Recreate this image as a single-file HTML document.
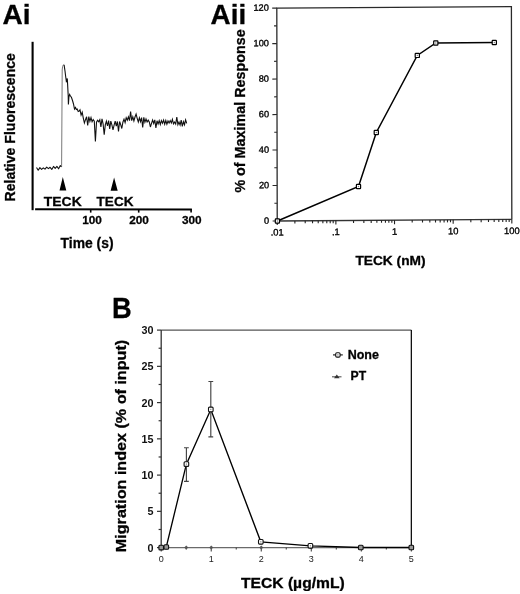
<!DOCTYPE html>
<html><head><meta charset="utf-8"><title>Figure</title>
<style>html,body{margin:0;padding:0;background:#fff;}svg{display:block;}text{font-family:"Liberation Sans",sans-serif;}text[font-weight=bold]{stroke:#000;stroke-width:0.3px;}</style>
</head><body>
<svg width="520" height="594" viewBox="0 0 520 594">
<rect width="520" height="594" fill="#fff"/>
<g opacity="0.999">
<text x="2.6" y="24" font-size="28" font-weight="bold" font-family="Liberation Sans, sans-serif">Ai</text>
<text transform="translate(14.8,127.3) rotate(-90)" text-anchor="middle" font-size="14" font-weight="bold" font-family="Liberation Sans, sans-serif" textLength="148.4" lengthAdjust="spacingAndGlyphs">Relative Fluorescence</text>
<path d="M32.6,41.8 V210.2" stroke="#000" stroke-width="2.1" fill="none"/>
<path d="M35.1,209.2 L191.9,209.5" stroke="#000" stroke-width="2.1" fill="none"/>
<path d="M90.7,209 V212.6" stroke="#000" stroke-width="1.6"/>
<path d="M138.7,209 V212.6" stroke="#000" stroke-width="1.6"/>
<path d="M191.1,209 V212.6" stroke="#000" stroke-width="1.6"/>
<text x="92.1" y="224.3" text-anchor="middle" font-size="11.8" font-weight="bold" font-family="Liberation Sans, sans-serif">100</text>
<text x="139.1" y="224.3" text-anchor="middle" font-size="11.8" font-weight="bold" font-family="Liberation Sans, sans-serif">200</text>
<text x="191.8" y="224.3" text-anchor="middle" font-size="11.8" font-weight="bold" font-family="Liberation Sans, sans-serif">300</text>
<text x="60.6" y="247.6" font-size="14.2" font-weight="bold" font-family="Liberation Sans, sans-serif" textLength="53" lengthAdjust="spacingAndGlyphs">Time (s)</text>
<text x="43.8" y="205.8" font-size="13.6" font-weight="bold" font-family="Liberation Sans, sans-serif" textLength="37.9" lengthAdjust="spacingAndGlyphs">TECK</text>
<text x="96.6" y="205.8" font-size="13.6" font-weight="bold" font-family="Liberation Sans, sans-serif" textLength="36.9" lengthAdjust="spacingAndGlyphs">TECK</text>
<path d="M62.8,177 L66.3,190.6 L59.5,190.6 Z M114.1,177.4 L117.7,190.8 L110.6,190.8 Z" fill="#000"/>
<polyline points="36.5,167.5 38.2,170.2 39.9,167.6 41.6,169.3 43.3,167.8 45.0,169.2 46.7,167.2 48.4,168.6 50.1,167.3 51.8,169.4 53.5,166.4 55.2,168.3 56.9,166.4 58.6,168.8 60.3,165.6 61.5,167.0" fill="none" stroke="#111" stroke-width="1.1" stroke-linejoin="round"/>
<polyline points="61.6,167.0 61.9,120.0 62.2,70.0 62.6,66.5 63.4,64.8 64.1,64.4" fill="none" stroke="#555" stroke-width="0.8" stroke-linejoin="round"/>
<polyline points="64.1,64.8 65.0,71.0 65.6,76.0 66.3,81.0 67.3,78.5 67.8,88.0 68.2,95.5 68.4,104.5 68.9,97.0 69.6,94.5 70.5,96.0 71.5,97.5 72.5,100.5 73.5,104.0 74.5,109.0 75.5,107.5 76.3,109.5 77.2,109.0 78.2,111.5 79.1,111.0 80.0,109.8 81.1,115.1 82.2,112.2 83.3,118.1 84.4,123.0 85.5,119.7 86.6,116.7 87.7,125.5 88.8,116.6 89.9,121.3 91.0,117.5 92.1,121.8 93.2,119.6 94.3,121.3 95.4,141.5 96.5,122.1 97.6,120.2 98.7,121.8 99.8,119.8 100.9,127.0 102.0,118.9 103.1,123.8 104.2,134.6 105.3,124.9 106.4,121.2 107.5,126.0 108.6,120.5 109.7,129.0 110.8,121.1 111.9,124.8 113.0,130.0 114.1,125.2 115.2,121.1 116.3,126.1 117.4,121.5 118.5,131.5 119.6,121.5 120.7,124.6 121.8,128.5 122.9,122.2 124.0,119.2 125.1,122.7 126.2,117.7 127.3,120.2 128.4,116.8 129.5,120.6 130.6,111.5 131.7,120.6 132.8,116.8 133.9,121.0 135.0,117.0 136.1,114.0 137.2,118.3 138.3,121.9 139.4,117.8 140.5,121.7 141.6,117.6 142.7,127.5 143.8,117.4 144.9,122.3 146.0,119.0 147.1,122.0 148.2,120.1 149.3,121.9 150.4,127.0 151.5,123.3 152.6,120.1 153.7,123.5 154.8,119.9 155.9,128.0 157.0,120.8 158.1,124.0 159.2,120.7 160.3,124.5 161.4,120.6 162.5,123.2 163.6,120.1 164.7,124.2 165.8,120.5 166.9,124.2 168.0,121.0 169.1,123.1 170.2,120.6 171.3,122.9 172.4,119.3 173.5,123.8 174.6,122.0 175.7,124.0 176.8,117.0 177.9,124.7 179.0,122.1 180.1,125.1 181.2,120.2 182.3,126.3 183.4,121.7 184.5,124.7 185.6,119.8 186.7,123.3" fill="none" stroke="#111" stroke-width="1.1" stroke-linejoin="miter"/>
<text x="210.6" y="24" font-size="27.8" font-weight="bold" font-family="Liberation Sans, sans-serif">Aii</text>
<text x="355.4" y="265" font-size="12.8" font-weight="bold" font-family="Liberation Sans, sans-serif" textLength="70.2" lengthAdjust="spacingAndGlyphs">TECK (nM)</text>
<text transform="translate(244.8,111) rotate(-90)" text-anchor="middle" font-size="14.3" font-weight="bold" font-family="Liberation Sans, sans-serif" textLength="163.2" lengthAdjust="spacingAndGlyphs">% of Maximal Response</text>
<g transform="matrix(1,-0.0066,0.002,1,-0.0162,1.8269)">
<path d="M276.8,221.0 V8.1 H511.4 V221.0" fill="none" stroke="#2a2a2a" stroke-width="1.3"/>
<path d="M276.8,221.0 H511.4" fill="none" stroke="#333" stroke-width="1.3"/>
<path d="M272.2,221.00 H276.8" stroke="#2a2a2a" stroke-width="1.1"/>
<text x="268.8" y="223.60" text-anchor="end" font-size="9.2" font-family="Liberation Sans, sans-serif" fill="#000" stroke="#000" stroke-width="0.35">0</text>
<path d="M274.0,203.26 H276.8" stroke="#2a2a2a" stroke-width="1.1"/>
<path d="M272.2,185.52 H276.8" stroke="#2a2a2a" stroke-width="1.1"/>
<text x="268.8" y="188.12" text-anchor="end" font-size="9.2" font-family="Liberation Sans, sans-serif" fill="#000" stroke="#000" stroke-width="0.35">20</text>
<path d="M274.0,167.78 H276.8" stroke="#2a2a2a" stroke-width="1.1"/>
<path d="M272.2,150.03 H276.8" stroke="#2a2a2a" stroke-width="1.1"/>
<text x="268.8" y="152.63" text-anchor="end" font-size="9.2" font-family="Liberation Sans, sans-serif" fill="#000" stroke="#000" stroke-width="0.35">40</text>
<path d="M274.0,132.29 H276.8" stroke="#2a2a2a" stroke-width="1.1"/>
<path d="M272.2,114.55 H276.8" stroke="#2a2a2a" stroke-width="1.1"/>
<text x="268.8" y="117.15" text-anchor="end" font-size="9.2" font-family="Liberation Sans, sans-serif" fill="#000" stroke="#000" stroke-width="0.35">60</text>
<path d="M274.0,96.81 H276.8" stroke="#2a2a2a" stroke-width="1.1"/>
<path d="M272.2,79.07 H276.8" stroke="#2a2a2a" stroke-width="1.1"/>
<text x="268.8" y="81.67" text-anchor="end" font-size="9.2" font-family="Liberation Sans, sans-serif" fill="#000" stroke="#000" stroke-width="0.35">80</text>
<path d="M274.0,61.32 H276.8" stroke="#2a2a2a" stroke-width="1.1"/>
<path d="M272.2,43.58 H276.8" stroke="#2a2a2a" stroke-width="1.1"/>
<text x="268.8" y="46.18" text-anchor="end" font-size="9.2" font-family="Liberation Sans, sans-serif" fill="#000" stroke="#000" stroke-width="0.35">100</text>
<path d="M274.0,25.84 H276.8" stroke="#2a2a2a" stroke-width="1.1"/>
<path d="M272.2,8.10 H276.8" stroke="#2a2a2a" stroke-width="1.1"/>
<text x="268.8" y="10.70" text-anchor="end" font-size="9.2" font-family="Liberation Sans, sans-serif" fill="#000" stroke="#000" stroke-width="0.35">120</text>
<path d="M276.80,221.0 V225.0" stroke="#222" stroke-width="1.1"/>
<path d="M294.46,221.0 V223.5" stroke="#222" stroke-width="1.1"/>
<path d="M304.78,221.0 V223.5" stroke="#222" stroke-width="1.1"/>
<path d="M312.11,221.0 V223.5" stroke="#222" stroke-width="1.1"/>
<path d="M317.79,221.0 V223.5" stroke="#222" stroke-width="1.1"/>
<path d="M322.44,221.0 V223.5" stroke="#222" stroke-width="1.1"/>
<path d="M326.37,221.0 V223.5" stroke="#222" stroke-width="1.1"/>
<path d="M329.77,221.0 V223.5" stroke="#222" stroke-width="1.1"/>
<path d="M332.77,221.0 V223.5" stroke="#222" stroke-width="1.1"/>
<path d="M335.45,221.0 V225.0" stroke="#222" stroke-width="1.1"/>
<path d="M353.11,221.0 V223.5" stroke="#222" stroke-width="1.1"/>
<path d="M363.43,221.0 V223.5" stroke="#222" stroke-width="1.1"/>
<path d="M370.76,221.0 V223.5" stroke="#222" stroke-width="1.1"/>
<path d="M376.44,221.0 V223.5" stroke="#222" stroke-width="1.1"/>
<path d="M381.09,221.0 V223.5" stroke="#222" stroke-width="1.1"/>
<path d="M385.02,221.0 V223.5" stroke="#222" stroke-width="1.1"/>
<path d="M388.42,221.0 V223.5" stroke="#222" stroke-width="1.1"/>
<path d="M391.42,221.0 V223.5" stroke="#222" stroke-width="1.1"/>
<path d="M394.10,221.0 V225.0" stroke="#222" stroke-width="1.1"/>
<path d="M411.76,221.0 V223.5" stroke="#222" stroke-width="1.1"/>
<path d="M422.08,221.0 V223.5" stroke="#222" stroke-width="1.1"/>
<path d="M429.41,221.0 V223.5" stroke="#222" stroke-width="1.1"/>
<path d="M435.09,221.0 V223.5" stroke="#222" stroke-width="1.1"/>
<path d="M439.74,221.0 V223.5" stroke="#222" stroke-width="1.1"/>
<path d="M443.67,221.0 V223.5" stroke="#222" stroke-width="1.1"/>
<path d="M447.07,221.0 V223.5" stroke="#222" stroke-width="1.1"/>
<path d="M450.07,221.0 V223.5" stroke="#222" stroke-width="1.1"/>
<path d="M452.75,221.0 V225.0" stroke="#222" stroke-width="1.1"/>
<path d="M470.41,221.0 V223.5" stroke="#222" stroke-width="1.1"/>
<path d="M480.73,221.0 V223.5" stroke="#222" stroke-width="1.1"/>
<path d="M488.06,221.0 V223.5" stroke="#222" stroke-width="1.1"/>
<path d="M493.74,221.0 V223.5" stroke="#222" stroke-width="1.1"/>
<path d="M498.39,221.0 V223.5" stroke="#222" stroke-width="1.1"/>
<path d="M502.32,221.0 V223.5" stroke="#222" stroke-width="1.1"/>
<path d="M505.72,221.0 V223.5" stroke="#222" stroke-width="1.1"/>
<path d="M508.72,221.0 V223.5" stroke="#222" stroke-width="1.1"/>
<path d="M511.40,221.0 V225.0" stroke="#222" stroke-width="1.1"/>
<text x="276.80" y="235.5" text-anchor="middle" font-size="9.3" font-family="Liberation Sans, sans-serif" fill="#000" stroke="#000" stroke-width="0.35">.01</text>
<text x="335.45" y="235.5" text-anchor="middle" font-size="9.3" font-family="Liberation Sans, sans-serif" fill="#000" stroke="#000" stroke-width="0.35">.1</text>
<text x="394.10" y="235.5" text-anchor="middle" font-size="9.3" font-family="Liberation Sans, sans-serif" fill="#000" stroke="#000" stroke-width="0.35">1</text>
<text x="452.75" y="235.5" text-anchor="middle" font-size="9.3" font-family="Liberation Sans, sans-serif" fill="#000" stroke="#000" stroke-width="0.35">10</text>
<text x="511.40" y="235.5" text-anchor="middle" font-size="9.3" font-family="Liberation Sans, sans-serif" fill="#000" stroke="#000" stroke-width="0.35">100</text>
</g>
<polyline points="277.4,221.0 358.5,186.5 376.3,132.5 417.3,55.4 435.8,43.0 494.3,42.5" fill="none" stroke="#000" stroke-width="1.5"/>
<rect x="275.30" y="218.90" width="4.2" height="4.2" rx="0.6" fill="#fff" stroke="#000" stroke-width="1.2"/>
<rect x="276.80" y="220.40" width="1.2" height="1.2" fill="#777"/>
<rect x="356.40" y="184.40" width="4.2" height="4.2" rx="0.6" fill="#fff" stroke="#000" stroke-width="1.2"/>
<rect x="357.90" y="185.90" width="1.2" height="1.2" fill="#777"/>
<rect x="374.20" y="130.40" width="4.2" height="4.2" rx="0.6" fill="#fff" stroke="#000" stroke-width="1.2"/>
<rect x="375.70" y="131.90" width="1.2" height="1.2" fill="#777"/>
<rect x="415.20" y="53.30" width="4.2" height="4.2" rx="0.6" fill="#fff" stroke="#000" stroke-width="1.2"/>
<rect x="416.70" y="54.80" width="1.2" height="1.2" fill="#777"/>
<rect x="433.70" y="40.90" width="4.2" height="4.2" rx="0.6" fill="#fff" stroke="#000" stroke-width="1.2"/>
<rect x="435.20" y="42.40" width="1.2" height="1.2" fill="#777"/>
<rect x="492.20" y="40.40" width="4.2" height="4.2" rx="0.6" fill="#fff" stroke="#000" stroke-width="1.2"/>
<rect x="493.70" y="41.90" width="1.2" height="1.2" fill="#777"/>
<text transform="translate(111.9,318) scale(0.94,1)" font-size="29" font-weight="bold" font-family="Liberation Sans, sans-serif">B</text>
<text transform="translate(126.1,446) rotate(-90)" text-anchor="middle" font-size="14.4" font-weight="bold" font-family="Liberation Sans, sans-serif" textLength="212.3" lengthAdjust="spacingAndGlyphs">Migration index (% of input)</text>
<text x="241" y="587.7" font-size="14.3" font-weight="bold" font-family="Liberation Sans, sans-serif" textLength="103.7" lengthAdjust="spacingAndGlyphs">TECK (µg/mL)</text>
<path d="M161.2,330.1 H411.35" stroke="#555" stroke-width="1.3"/>
<path d="M411.35,330.1 V547.6" stroke="#111" stroke-width="1.3"/>
<path d="M161.2,547.6 V330.1" stroke="#333" stroke-width="1.3"/>
<path d="M161.2,547.6 H411.35" stroke="#6a6a6a" stroke-width="1.1"/>
<path d="M157.0,547.60 H161.2" stroke="#333" stroke-width="1.2"/>
<text x="153.5" y="551.50" text-anchor="end" font-size="10.8" font-weight="bold" font-family="Liberation Sans, sans-serif" fill="#111" style="stroke-width:0">0</text>
<path d="M158.6,529.48 H161.2" stroke="#333" stroke-width="1.2"/>
<path d="M157.0,511.35 H161.2" stroke="#333" stroke-width="1.2"/>
<text x="153.5" y="515.25" text-anchor="end" font-size="10.8" font-weight="bold" font-family="Liberation Sans, sans-serif" fill="#111" style="stroke-width:0">5</text>
<path d="M158.6,493.23 H161.2" stroke="#333" stroke-width="1.2"/>
<path d="M157.0,475.10 H161.2" stroke="#333" stroke-width="1.2"/>
<text x="153.5" y="479.00" text-anchor="end" font-size="10.8" font-weight="bold" font-family="Liberation Sans, sans-serif" fill="#111" style="stroke-width:0">10</text>
<path d="M158.6,456.98 H161.2" stroke="#333" stroke-width="1.2"/>
<path d="M157.0,438.85 H161.2" stroke="#333" stroke-width="1.2"/>
<text x="153.5" y="442.75" text-anchor="end" font-size="10.8" font-weight="bold" font-family="Liberation Sans, sans-serif" fill="#111" style="stroke-width:0">15</text>
<path d="M158.6,420.73 H161.2" stroke="#333" stroke-width="1.2"/>
<path d="M157.0,402.60 H161.2" stroke="#333" stroke-width="1.2"/>
<text x="153.5" y="406.50" text-anchor="end" font-size="10.8" font-weight="bold" font-family="Liberation Sans, sans-serif" fill="#111" style="stroke-width:0">20</text>
<path d="M158.6,384.48 H161.2" stroke="#333" stroke-width="1.2"/>
<path d="M157.0,366.35 H161.2" stroke="#333" stroke-width="1.2"/>
<text x="153.5" y="370.25" text-anchor="end" font-size="10.8" font-weight="bold" font-family="Liberation Sans, sans-serif" fill="#111" style="stroke-width:0">25</text>
<path d="M158.6,348.23 H161.2" stroke="#333" stroke-width="1.2"/>
<path d="M157.0,330.10 H161.2" stroke="#333" stroke-width="1.2"/>
<text x="153.5" y="334.00" text-anchor="end" font-size="10.8" font-weight="bold" font-family="Liberation Sans, sans-serif" fill="#111" style="stroke-width:0">30</text>
<path d="M161.20,547.6 V551.4" stroke="#444" stroke-width="1.1"/>
<text x="161.20" y="562" text-anchor="middle" font-size="9" font-family="Liberation Sans, sans-serif" fill="#222">0</text>
<path d="M186.22,547.6 V549.6" stroke="#444" stroke-width="1.1"/>
<path d="M211.23,547.6 V551.4" stroke="#444" stroke-width="1.1"/>
<text x="211.23" y="562" text-anchor="middle" font-size="9" font-family="Liberation Sans, sans-serif" fill="#222">1</text>
<path d="M236.25,547.6 V549.6" stroke="#444" stroke-width="1.1"/>
<path d="M261.26,547.6 V551.4" stroke="#444" stroke-width="1.1"/>
<text x="261.26" y="562" text-anchor="middle" font-size="9" font-family="Liberation Sans, sans-serif" fill="#222">2</text>
<path d="M286.27,547.6 V549.6" stroke="#444" stroke-width="1.1"/>
<path d="M311.29,547.6 V551.4" stroke="#444" stroke-width="1.1"/>
<text x="311.29" y="562" text-anchor="middle" font-size="9" font-family="Liberation Sans, sans-serif" fill="#222">3</text>
<path d="M336.31,547.6 V549.6" stroke="#444" stroke-width="1.1"/>
<path d="M361.32,547.6 V551.4" stroke="#444" stroke-width="1.1"/>
<text x="361.32" y="562" text-anchor="middle" font-size="9" font-family="Liberation Sans, sans-serif" fill="#222">4</text>
<path d="M386.34,547.6 V549.6" stroke="#444" stroke-width="1.1"/>
<path d="M411.35,547.6 V551.4" stroke="#444" stroke-width="1.1"/>
<text x="411.35" y="562" text-anchor="middle" font-size="9" font-family="Liberation Sans, sans-serif" fill="#222">5</text>
<polyline points="161.2,547.6 166.3,547.0 186.4,464.1 210.8,409.4 260.8,541.8 310.4,545.8 360.8,547.5 411.3,547.5" fill="none" stroke="#000" stroke-width="1.35"/>
<path d="M186.40,481.40 V447.70 M184.00,481.40 h4.8 M184.00,447.70 h4.8" stroke="#444" stroke-width="1.15"/>
<path d="M210.80,436.80 V381.50 M208.40,436.80 h4.8 M208.40,381.50 h4.8" stroke="#444" stroke-width="1.15"/>
<path d="M159.20,547.6 L161.20,545.6 L163.20,547.6 L161.20,549.6 Z" fill="#555"/>
<path d="M164.20,547.6 L166.20,545.6 L168.20,547.6 L166.20,549.6 Z" fill="#555"/>
<path d="M184.22,547.6 L186.22,545.6 L188.22,547.6 L186.22,549.6 Z" fill="#555"/>
<path d="M209.23,547.6 L211.23,545.6 L213.23,547.6 L211.23,549.6 Z" fill="#555"/>
<path d="M259.26,547.6 L261.26,545.6 L263.26,547.6 L261.26,549.6 Z" fill="#555"/>
<path d="M309.29,547.6 L311.29,545.6 L313.29,547.6 L311.29,549.6 Z" fill="#555"/>
<path d="M359.32,547.6 L361.32,545.6 L363.32,547.6 L361.32,549.6 Z" fill="#555"/>
<path d="M409.35,547.6 L411.35,545.6 L413.35,547.6 L411.35,549.6 Z" fill="#555"/>
<rect x="158.90" y="545.30" width="4.6" height="4.6" rx="1" fill="#999" stroke="#111" stroke-width="1.1"/>
<rect x="164.00" y="544.70" width="4.6" height="4.6" rx="1" fill="#999" stroke="#111" stroke-width="1.1"/>
<rect x="184.10" y="461.80" width="4.6" height="4.6" rx="1" fill="#fff" stroke="#111" stroke-width="1.1"/>
<rect x="185.80" y="463.50" width="1.2" height="1.2" fill="#888"/>
<rect x="208.50" y="407.10" width="4.6" height="4.6" rx="1" fill="#fff" stroke="#111" stroke-width="1.1"/>
<rect x="210.20" y="408.80" width="1.2" height="1.2" fill="#888"/>
<rect x="258.50" y="539.50" width="4.6" height="4.6" rx="1" fill="#fff" stroke="#111" stroke-width="1.1"/>
<rect x="260.20" y="541.20" width="1.2" height="1.2" fill="#888"/>
<rect x="308.10" y="543.50" width="4.6" height="4.6" rx="1" fill="#fff" stroke="#111" stroke-width="1.1"/>
<rect x="309.80" y="545.20" width="1.2" height="1.2" fill="#888"/>
<rect x="358.50" y="545.20" width="4.6" height="4.6" rx="1" fill="#999" stroke="#111" stroke-width="1.1"/>
<rect x="409.00" y="545.20" width="4.6" height="4.6" rx="1" fill="#999" stroke="#111" stroke-width="1.1"/>
<path d="M333,354.9 H342.8" stroke="#222" stroke-width="1.2"/><rect x="335.7" y="352.7" width="4.4" height="4.4" rx="1.2" fill="#fff" stroke="#111" stroke-width="1.1"/><rect x="337.3" y="354.3" width="1.2" height="1.2" fill="#777"/>
<text x="347.7" y="358.6" font-size="12.2" font-weight="bold" font-family="Liberation Sans, sans-serif" textLength="31.2" lengthAdjust="spacingAndGlyphs">None</text>
<path d="M332,376.8 H341.5" stroke="#555" stroke-width="1.1"/><path d="M334,378.2 L336.8,374.6 L339.6,378.2 Z" fill="#333"/>
<text x="350.6" y="379.8" font-size="12.2" font-weight="bold" font-family="Liberation Sans, sans-serif" textLength="15.6" lengthAdjust="spacingAndGlyphs">PT</text>
</g>
</svg>
</body></html>
